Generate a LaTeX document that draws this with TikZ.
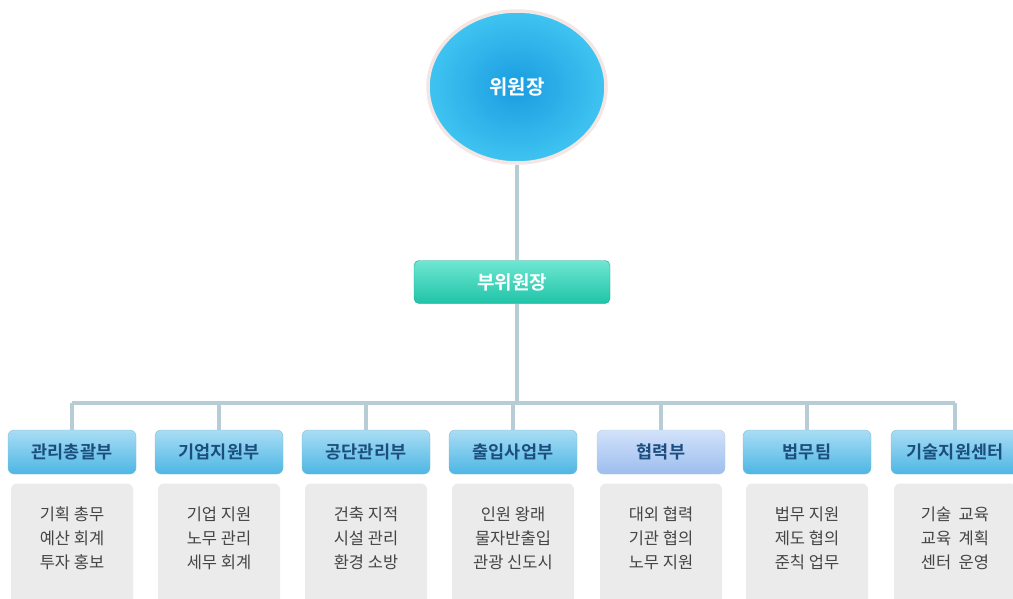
\documentclass[tikz,border=0pt]{standalone}
\usepackage{fontspec}
\setmainfont{Noto Sans CJK KR}
\newfontfamily\kb{Noto Sans CJK KR Bold}
\usetikzlibrary{shapes.geometric}
\definecolor{conn}{HTML}{B7CDD5}
\definecolor{deptTop}{HTML}{A9DDF4}
\definecolor{deptBot}{HTML}{4DB6E4}
\definecolor{deptTxt}{HTML}{1B4E7E}
\definecolor{coopTop}{HTML}{D2E2FA}
\definecolor{coopBot}{HTML}{9DBDEE}
\definecolor{grayFill}{HTML}{EBEBEB}
\definecolor{grayTxt}{HTML}{454545}
\definecolor{tealTop}{HTML}{6FE6D2}
\definecolor{tealBot}{HTML}{1FC4A8}
\definecolor{circIn}{HTML}{1A9CE0}
\definecolor{circOut}{HTML}{3FC4F1}
\definecolor{circRim}{HTML}{F3E6E4}
\tikzset{
  conline/.style={conn, line width=3.5pt},
  deptbox/.style={rounded corners=6pt, minimum width=128pt, minimum height=44pt,
    top color=deptTop, bottom color=deptBot, draw=deptBot!80!black!60, line width=0.4pt,
    text=deptTxt, font=\kb\fontsize{17.5}{19}\selectfont, inner sep=0pt},
  coopbox/.style={deptbox, top color=coopTop, bottom color=coopBot, draw=coopBot!80!black!50},
  graybox/.style={rounded corners=6pt, fill=grayFill, minimum width=122pt, minimum height=125pt,
    inner sep=0pt},
  graytext/.style={text=grayTxt, font=\fontsize{16.5}{24}\selectfont, align=center},
}
\begin{document}
\begin{tikzpicture}[x=1pt,y=-1pt]
\useasboundingbox (0,0) rectangle (1013,598);
\fill[white] (0,0) rectangle (1013,598);
% chair circle
\node[ellipse, minimum width=178pt, minimum height=152pt, inner color=circIn, outer color=circOut,
  draw=circRim, line width=3.5pt, text=white, font=\kb\fontsize{20}{22}\selectfont] (chair) at (517,87) {위원장};
% vice chair
\node[rounded corners=5pt, minimum width=196pt, minimum height=43pt, top color=tealTop, bottom color=tealBot,
  draw=tealBot!85!black, line width=0.4pt, text=white, font=\kb\fontsize{19}{21}\selectfont] (vice) at (512,282) {부위원장};
\coordinate (bus) at (517,403);
\draw[conline] (chair.south) -- (vice.north -| chair.south);
\draw[conline] (vice.south -| chair.south) -- (bus);
% departments
\foreach \i/\x/\name/\st in {1/72/관리총괄부/deptbox, 2/219/기업지원부/deptbox, 3/366/공단관리부/deptbox,
  4/513/출입사업부/deptbox, 5/661/협력부/coopbox, 6/807/법무팀/deptbox, 7/955/기술지원센터/deptbox}{
  \coordinate (b\i) at (\x,403);
  \node[graybox] (g\i) at (\x,546) {};
  \node[\st] (d\i) at (\x,452) {\name};
}
\draw[conline] (b1) -- (b7);
\foreach \i in {1,...,7}{ \draw[conline] (b\i) -- (d\i.north); }
\foreach \i/\t in {1/{기획 총무\\예산 회계\\투자 홍보}, 2/{기업 지원\\노무 관리\\세무 회계},
  3/{건축 지적\\시설 관리\\환경 소방}, 4/{인원 왕래\\물자반출입\\관광 신도시},
  5/{대외 협력\\기관 협의\\노무 지원}, 6/{법무 지원\\제도 협의\\준칙 업무},
  7/{기술~~교육\\교육~~계획\\센터~~운영}}{
  \node[graytext] (t\i) at ([yshift=-55pt]g\i.north) {\t};
}
\end{tikzpicture}
\end{document}
